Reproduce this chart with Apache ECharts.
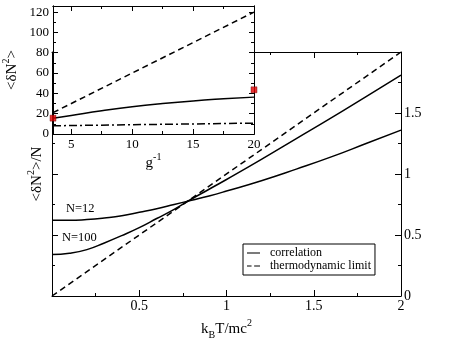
<!DOCTYPE html>
<html>
<head>
<meta charset="utf-8">
<script src="https://cdn.jsdelivr.net/npm/echarts@6/dist/echarts.min.js"></script>
<style>
  html, body { margin: 0; padding: 0; background: #fff; }
  #main { width: 451px; height: 349px; }
</style>
</head>
<body>
<div id="main"></div>
<script>
// main panel: fluctuations per particle vs temperature
var temps = [0, 0.1, 0.2, 0.3, 0.4, 0.5, 0.6, 0.7, 0.8, 0.9, 1.0, 1.2, 1.4, 1.6, 1.8, 2.0];
var corrN12 = [0.62, 0.62, 0.627, 0.64, 0.658, 0.686, 0.715, 0.75, 0.785, 0.82, 0.86, 0.945, 1.04, 1.14, 1.25, 1.36];
var corrN100 = [0.34, 0.35, 0.38, 0.435, 0.495, 0.56, 0.635, 0.71, 0.795, 0.875, 0.955, 1.12, 1.29, 1.46, 1.635, 1.81];
var thermoT = [0, 2];
var thermoMain = [0, 2];

// inset: <dN^2> vs g^-1
var gInv = [3.5, 5, 7.5, 10, 12.5, 15, 17.5, 20];
var insetCorr = [15.6, 18.3, 22.8, 26.8, 30.0, 32.6, 34.6, 36.3];
var thermoG = [3.5, 20];
var insetThermo = [21, 120];
var dotG = [3.5, 20];
var insetDot = [8.1, 10.7];
var markG = [3.5, 20];
var markVals = [15.6, 43.5];

var insetXMajor = [5, 10, 15, 20];
var insetXMinor = [5, 7.5, 10, 12.5, 15, 17.5, 20];
var insetYMajor = [0, 20, 40, 60, 80, 100, 120];
var insetYMinor = [10, 30, 50, 70, 90, 110];

var serif = 'Liberation Serif';
function zip(a, b) { return a.map(function (v, i) { return [v, b[i]]; }); }

var rich = {
    sub: { fontFamily: serif, fontSize: 10, lineHeight: 10, verticalAlign: 'bottom', color: '#000' },
    sup: { fontFamily: serif, fontSize: 10, lineHeight: 10, verticalAlign: 'top', color: '#000' }
};
var nameStyle = { fontFamily: serif, fontSize: 15, color: '#000', lineHeight: 22, rich: rich };
var black = { color: '#000', width: 1 };

// legend icons drawn as filled strips (solid / dashed)
var solidIcon = 'path://M0,0H20V1.6H0Z';
var dashIcon = 'path://M0,0H7V1.6H0Z M11,0H20V1.6H11Z';

function mainAxis(pos, showLabel, extra) {
    var ax = {
        gridIndex: 0, type: 'value', position: pos, min: 0, max: 2, interval: 0.5,
        axisLine: { show: true, onZero: false, lineStyle: black },
        axisTick: { show: true, inside: true, length: 6, lineStyle: black },
        minorTick: { show: true, splitNumber: 2, length: 3, lineStyle: black },
        splitLine: { show: false },
        axisLabel: { show: showLabel, fontFamily: serif, fontSize: 14, color: '#000', margin: 3 }
    };
    return Object.assign(ax, extra || {});
}

function insetAxis(pos, min, max, ticks, len, labels, extra) {
    var ax = {
        gridIndex: 1, type: 'value', position: pos, min: min, max: max, z: 4,
        axisLine: { show: true, onZero: false, lineStyle: black },
        axisTick: { show: true, inside: true, length: len, lineStyle: black, customValues: ticks },
        splitLine: { show: false },
        axisLabel: labels ? { show: true, customValues: labels, fontFamily: serif, fontSize: 13, color: '#000', margin: 4 } : { show: false }
    };
    return Object.assign(ax, extra || {});
}

var myChart = echarts.init(document.getElementById('main'));
var option = {
    animation: false,
    backgroundColor: '#fff',
    grid: [
        { left: 52, right: 50, top: 52, bottom: 53 },
        { left: 52, top: 6, width: 202, height: 128, show: true, backgroundColor: '#fff', borderWidth: 0, z: 3 }
    ],
    legend: {
        left: 243, top: 244, orient: 'vertical',
        borderColor: '#000', borderWidth: 1, borderRadius: 0,
        padding: [3, 4, 3, 4], itemGap: 1, itemWidth: 13, itemHeight: 10,
        textStyle: { fontFamily: serif, fontSize: 12, color: '#000', lineHeight: 12, padding: [0, 0, 0, 5] },
        data: [
            { name: 'correlation', icon: solidIcon, itemStyle: { color: '#000' } },
            { name: 'thermodynamic limit', icon: dashIcon, itemStyle: { color: '#000' } }
        ]
    },
    xAxis: [
        mainAxis('bottom', true, {
            name: 'k{sub|B}T/mc{sup|2}', nameLocation: 'middle', nameGap: 22, nameTextStyle: nameStyle,
            axisLabel: { show: true, fontFamily: serif, fontSize: 14, color: '#000', margin: 3, showMinLabel: false }
        }),
        mainAxis('top', false),
        insetAxis('bottom', 3.5, 20, insetXMajor, 5, insetXMajor, {
            name: 'g{sup|-1}', nameLocation: 'middle', nameGap: 15, nameTextStyle: nameStyle
        }),
        insetAxis('bottom', 3.5, 20, insetXMinor, 3, null),
        insetAxis('top', 3.5, 20, insetXMajor, 5, null),
        insetAxis('top', 3.5, 20, insetXMinor, 3, null)
    ],
    yAxis: [
        mainAxis('right', true, {
            axisLabel: { show: true, fontFamily: serif, fontSize: 14, color: '#000', margin: 3, showMaxLabel: false }
        }),
        mainAxis('left', false, {
            name: '<δN{sup|2}>/N', nameLocation: 'middle', nameGap: 4, nameTextStyle: nameStyle
        }),
        insetAxis('left', 0, 126, insetYMajor, 5, insetYMajor, {
            name: '<δN{sup|2}>', nameLocation: 'middle', nameGap: 30, nameTextStyle: nameStyle
        }),
        insetAxis('left', 0, 126, insetYMinor, 3, null),
        insetAxis('right', 0, 126, insetYMajor, 5, null),
        insetAxis('right', 0, 126, insetYMinor, 3, null)
    ],
    graphic: [
        { type: 'text', left: 66, top: 202, style: { text: 'N=12', fontFamily: serif, fontSize: 12.5, fill: '#000' } },
        { type: 'text', left: 62, top: 231, style: { text: 'N=100', fontFamily: serif, fontSize: 12.5, fill: '#000' } }
    ],
    series: [
        {
            name: 'correlation', type: 'line', xAxisIndex: 0, yAxisIndex: 0,
            data: zip(temps, corrN12), smooth: true, symbol: 'none',
            lineStyle: { color: '#000', width: 1.5 }, itemStyle: { color: '#000' }
        },
        {
            name: 'correlation', type: 'line', xAxisIndex: 0, yAxisIndex: 0,
            data: zip(temps, corrN100), smooth: true, symbol: 'none',
            lineStyle: { color: '#000', width: 1.5 }, itemStyle: { color: '#000' }
        },
        {
            name: 'thermodynamic limit', type: 'line', xAxisIndex: 0, yAxisIndex: 0,
            data: zip(thermoT, thermoMain), symbol: 'none',
            lineStyle: { color: '#000', width: 1.5, type: [6, 4] }, itemStyle: { color: '#000' }
        },
        {
            name: 'inset correlation', type: 'line', xAxisIndex: 2, yAxisIndex: 2, z: 5,
            data: zip(gInv, insetCorr), smooth: true, symbol: 'none',
            lineStyle: { color: '#000', width: 1.5 }
        },
        {
            name: 'inset thermo', type: 'line', xAxisIndex: 2, yAxisIndex: 2, z: 5,
            data: zip(thermoG, insetThermo), symbol: 'none',
            lineStyle: { color: '#000', width: 1.5, type: [6, 4] }
        },
        {
            name: 'inset dot', type: 'line', xAxisIndex: 2, yAxisIndex: 2, z: 5,
            data: zip(dotG, insetDot), symbol: 'none',
            lineStyle: { color: '#000', width: 1.5, type: [8, 3, 2, 3] }
        },
        {
            name: 'inset marks', type: 'scatter', xAxisIndex: 2, yAxisIndex: 2, z: 6, clip: false,
            data: zip(markG, markVals), symbol: 'rect', symbolSize: 6,
            itemStyle: { color: '#e00000', borderColor: '#600', borderWidth: 0.5 }
        }
    ]
};
myChart.setOption(option);
</script>
</body>
</html>
